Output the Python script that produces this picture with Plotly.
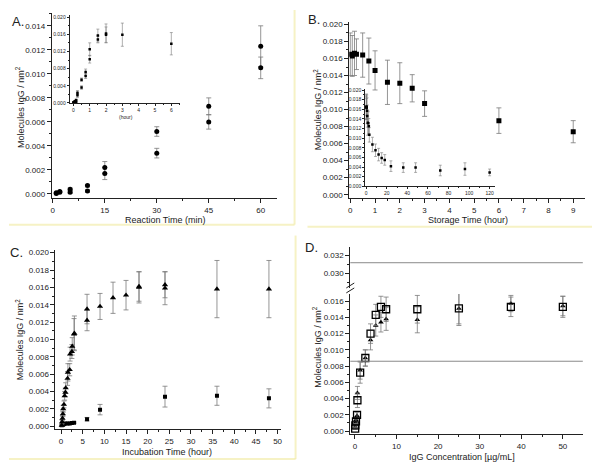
import plotly.graph_objects as go

W, H = 600, 462
FONT = "Arial, Liberation Sans, sans-serif"

# ---------------- Panel A data ----------------
A_time_min = [1, 1, 2, 2, 5, 5, 10, 10, 15, 15, 30, 30, 45, 45, 60, 60]
A_values = [0.0001, 0.00005, 0.0002, 0.00015, 0.0004, 0.00015, 0.0007, 0.00025,
            0.0022, 0.0017, 0.0052, 0.0034, 0.0073, 0.0060, 0.0123, 0.0105]
A_errors = [0.00005, 0.00005, 0.00005, 0.00005, 0.0001, 0.0001, 0.0001, 0.0001,
            0.0005, 0.0005, 0.0004, 0.0004, 0.0007, 0.0006, 0.0017, 0.0009]

A_inset_hours = [0.017, 0.017, 0.033, 0.033, 0.083, 0.083, 0.167, 0.167, 0.25, 0.25,
                 0.5, 0.5, 0.75, 0.75, 1, 1, 1.5, 1.5, 2, 2, 3, 6]
A_inset_values = [0.0001, 0.00005, 0.0002, 0.00015, 0.0004, 0.0002, 0.0007, 0.00025,
                  0.0024, 0.0018, 0.0054, 0.0036, 0.0072, 0.0063, 0.0125, 0.0102,
                  0.0157, 0.0148, 0.0162, 0.0159, 0.0159, 0.0138]
A_inset_errors = [0.00005, 0.00005, 0.00005, 0.00005, 0.0001, 0.0001, 0.0001, 0.0001,
                  0.0005, 0.0005, 0.0004, 0.0004, 0.0007, 0.0006, 0.0015, 0.0009,
                  0.0015, 0.0008, 0.0022, 0.0018, 0.0027, 0.0026]

# ---------------- Panel B data ----------------
B_time_h = [0, 0.08, 0.17, 0.25, 0.5, 0.75, 1, 1.5, 2, 2.5, 3, 6, 9]
B_values = [0.0165, 0.0163, 0.0166, 0.0165, 0.0164, 0.0157, 0.0146, 0.0132,
            0.0131, 0.0125, 0.0107, 0.0087, 0.0074]
B_errors = [0.0025, 0.0024, 0.0026, 0.0018, 0.0026, 0.0027, 0.0023, 0.0026,
            0.0024, 0.0016, 0.0015, 0.0015, 0.0013]

B_inset_hours = [0, 0.08, 0.17, 0.25, 0.5, 0.75, 1, 1.5, 2, 2.5, 3, 6, 9,
                 12, 15, 18, 24, 36, 48, 72, 96, 120]
B_inset_values = [0.0165, 0.0163, 0.0166, 0.0165, 0.0164, 0.0157, 0.0146, 0.0132,
                  0.0131, 0.0125, 0.0107, 0.0087, 0.0075,
                  0.0066, 0.0059, 0.0055, 0.0042, 0.0039, 0.0039, 0.0033, 0.0036, 0.0029]
B_inset_errors = [0.0025, 0.0024, 0.0026, 0.0018, 0.0026, 0.0027, 0.0023, 0.0026,
                  0.0024, 0.0016, 0.0015, 0.0015, 0.0013,
                  0.0013, 0.0011, 0.0011, 0.0011, 0.0010, 0.0010, 0.0011, 0.0013, 0.0007]

# ---------------- Panel C data ----------------
C_tri_time = [0.17, 0.25, 0.33, 0.42, 0.5, 0.67, 0.83, 1.0, 1.08, 1.5, 1.58,
              2.0, 2.08, 2.5, 2.58, 3.0, 3.08, 6, 6, 9, 12, 15, 18, 18, 24, 24, 36, 48]
C_tri_values = [0.0001, 0.0005, 0.0009, 0.0014, 0.0020, 0.0025, 0.0035, 0.0039,
                0.0044, 0.0055, 0.0062, 0.0065, 0.0083, 0.0086, 0.0092, 0.0106,
                0.0107, 0.0122, 0.0135, 0.0138, 0.0148, 0.0151, 0.0160, 0.0161,
                0.0159, 0.0163, 0.0158, 0.0158]
C_tri_errors = [0.0001, 0.0002, 0.0003, 0.0003, 0.0004, 0.0004, 0.0005, 0.0005,
                0.0006, 0.0008, 0.0010, 0.0007, 0.0008, 0.0008, 0.0010, 0.0018,
                0.0020, 0.0012, 0.0017, 0.0015, 0.0018, 0.0017, 0.0018, 0.0017,
                0.0019, 0.0015, 0.0033, 0.0033]

C_sq_time = [0.17, 0.33, 0.5, 0.67, 1.0, 1.5, 2.0, 2.5, 3.0, 6, 9, 24, 36, 48]
C_sq_values = [0.0001, 0.0002, 0.0002, 0.00025, 0.0003, 0.0003, 0.0003, 0.00035,
               0.0004, 0.0008, 0.0019, 0.0034, 0.0035, 0.0032]
C_sq_errors = [0.00005, 0.00005, 0.00005, 0.00005, 0.00005, 0.00005, 0.00005,
               0.00005, 0.00008, 0.0002, 0.0006, 0.0012, 0.0011, 0.0011]

# ---------------- Panel D data ----------------
D_conc = [0.05, 0.1, 0.25, 0.5, 0.6, 1.25, 2.5, 3.75, 5, 6.25, 7.5, 15, 25, 37.5, 50]
D_sq_values = [0.0003, 0.0007, 0.0012, 0.0020, 0.0038, 0.0072, 0.0090, 0.0120,
               0.0143, 0.0153, 0.0150, 0.0150, 0.0151, 0.0153, 0.0153]
D_sq_errors = [0.0001, 0.0002, 0.0003, 0.0004, 0.0009, 0.0013, 0.0010, 0.0012,
               0.0013, 0.0013, 0.0015, 0.0017, 0.0021, 0.0012, 0.0013]
D_tri_values = [0.0005, 0.0010, 0.0014, 0.0019, 0.0047, 0.0075, 0.0090, 0.0112,
                0.0130, 0.0134, 0.0138, 0.0137, 0.0151, 0.0157, 0.0154]
D_tri_errors = [0.0001, 0.0002, 0.0003, 0.0004, 0.0008, 0.0011, 0.0010, 0.0012,
                0.0013, 0.0012, 0.0014, 0.0016, 0.0019, 0.0010, 0.0012]
D_ref_lines_lower = [0.0086]
D_ref_lines_upper = [0.0312]

# ---------------- helpers ----------------
def dx(x0, x1):
    return [x0 / W, x1 / W]

def dy(ybot, ytop):
    return [(H - ybot) / H, (H - ytop) / H]

def px(x):
    return x / W

def py(y):
    return 1 - y / H

ERR_COLOR = "#7a7a7a"

def axis(domain, rng, dtick, minor, anchor, size=8, fmt=None, tl=4, mtl=2, tick0=0):
    d = dict(domain=domain, range=rng, dtick=dtick, tick0=tick0, anchor=anchor,
             showline=True, linecolor="#222", linewidth=1,
             ticks="outside", ticklen=tl, tickwidth=1, tickcolor="#222",
             showgrid=False, zeroline=False,
             tickfont=dict(family=FONT, size=size, color="#222"),
             minor=dict(dtick=minor, tick0=tick0, ticks="outside", ticklen=mtl,
                        tickwidth=1, tickcolor="#222", showgrid=False))
    if fmt:
        d["tickformat"] = fmt
    return d

def errs(arr, width=2, thick=0.8):
    return dict(type="data", array=arr, visible=True, color=ERR_COLOR,
                thickness=thick, width=width)

fig = go.Figure()

# Panel A
fig.add_trace(go.Scatter(x=A_time_min, y=A_values, mode="markers", xaxis="x", yaxis="y",
                         marker=dict(symbol="circle", size=5, color="black"),
                         error_y=errs(A_errors, 2.5)))
fig.add_trace(go.Scatter(x=A_inset_hours, y=A_inset_values, mode="markers", xaxis="x2", yaxis="y2",
                         marker=dict(symbol="square", size=2.5, color="black"),
                         error_y=errs(A_inset_errors, 1.5, 0.6)))
# Panel B
fig.add_trace(go.Scatter(x=B_time_h, y=B_values, mode="markers", xaxis="x3", yaxis="y3",
                         marker=dict(symbol="square", size=5, color="black"),
                         error_y=errs(B_errors, 2.5)))
fig.add_trace(go.Scatter(x=B_inset_hours, y=B_inset_values, mode="markers", xaxis="x4", yaxis="y4",
                         marker=dict(symbol="square", size=2.5, color="black"),
                         error_y=errs(B_inset_errors, 1.5, 0.6)))
# Panel C
fig.add_trace(go.Scatter(x=C_sq_time, y=C_sq_values, mode="markers", xaxis="x5", yaxis="y5",
                         marker=dict(symbol="square", size=4, color="black"),
                         error_y=errs(C_sq_errors, 2.5)))
fig.add_trace(go.Scatter(x=C_tri_time, y=C_tri_values, mode="markers", xaxis="x5", yaxis="y5",
                         marker=dict(symbol="triangle-up", size=5.5, color="black"),
                         error_y=errs(C_tri_errors, 2.5)))
# Panel D (lower segment)
fig.add_trace(go.Scatter(x=D_conc, y=D_tri_values, mode="markers", xaxis="x6", yaxis="y6",
                         marker=dict(symbol="triangle-up", size=5, color="black"),
                         error_y=errs(D_tri_errors, 2.5)))
fig.add_trace(go.Scatter(x=D_conc, y=D_sq_values, mode="markers", xaxis="x6", yaxis="y6",
                         marker=dict(symbol="square-open", size=7, color="black",
                                     line=dict(width=1.3, color="black")),
                         error_y=errs(D_sq_errors, 2.5)))

layout = dict(
    width=W, height=H, margin=dict(l=0, r=0, t=0, b=0),
    paper_bgcolor="white", plot_bgcolor="rgba(0,0,0,0)", showlegend=False,
    font=dict(family=FONT, color="black"),
    # A main
    xaxis=axis(dx(43, 269), [-0.3, 64.6], 15, 7.5, "y"),
    yaxis=axis(dy(190, 3), [-0.00033, 0.01507], 0.002, 0.001, "x", fmt=".3f"),
    # A inset
    xaxis2=axis(dx(61, 172), [-0.226, 6.54], 1, 0.5, "y2", size=5, tl=2, mtl=1),
    yaxis2=axis(dy(94, 5), [0, 0.0205], 0.004, 0.002, "x2", size=5, fmt=".3f", tl=2, mtl=1),
    # B main
    xaxis3=axis(dx(342, 579), [-0.04, 9.48], 1, 0.5, "y3"),
    yaxis3=axis(dy(190, 12), [-0.00038, 0.0203], 0.002, 0.001, "x3", fmt=".3f"),
    # B inset
    xaxis4=axis(dx(358, 488), [-1, 124.8], 20, 10, "y4", size=5, tl=2, mtl=1),
    yaxis4=axis(dy(178.3, 80), [0, 0.0202], 0.002, 0.001, "x4", size=5, fmt=".3f", tl=2, mtl=1),
    # C
    xaxis5=axis(dx(46.7, 273), [-1.29, 50.7], 5, 2.5, "y5"),
    yaxis5=axis(dy(424, 242.7), [-0.00038, 0.0203], 0.002, 0.001, "x5", fmt=".3f"),
    # D
    xaxis6=axis(dx(343, 576.7), [-1.12, 54.8], 10, 5, "y6"),
    yaxis6=axis(dy(429, 287), [-0.0004, 0.01689], 0.002, 0.001, "x6", fmt=".3f"),
    yaxis7=axis(dy(281, 240), [0.02837, 0.03292], 0.002, 0.001, "x6", fmt=".3f"),
)
fig.update_layout(**layout)

# reference lines in D
shapes = []
for v in D_ref_lines_lower:
    shapes.append(dict(type="line", xref="x6 domain", yref="y6", x0=0, x1=1, y0=v, y1=v,
                       line=dict(color="#8a8a8a", width=1)))
for v in D_ref_lines_upper:
    shapes.append(dict(type="line", xref="x6 domain", yref="y7", x0=0, x1=1, y0=v, y1=v,
                       line=dict(color="#8a8a8a", width=1)))
# axis break marks in D
for off in (0, 5):
    shapes.append(dict(type="line", xref="paper", yref="paper",
                       x0=px(339), x1=px(347), y0=py(281 + off), y1=py(276 + off),
                       line=dict(color="#222", width=1)))

# faint yellow panel borders
YEL = "rgba(238,232,150,0.55)"
for (x0, y0, x1, y1) in [(287, 0, 287, 217), (0, 217, 287, 217),
                         (589, 0, 589, 221), (300, 219, 589, 219),
                         (288, 228, 288, 454), (0, 454, 288, 454),
                         (597, 227, 597, 459), (295, 459, 597, 459)]:
    shapes.append(dict(type="line", xref="paper", yref="paper",
                       x0=px(x0), x1=px(x1), y0=py(y0), y1=py(y1),
                       line=dict(color=YEL, width=2)))
fig.update_layout(shapes=shapes)

ann = []
def text(t, x, y, size=9, angle=0):
    ann.append(dict(text=t, x=px(x), y=py(y), xref="paper", yref="paper",
                    showarrow=False, xanchor="center", yanchor="middle",
                    textangle=angle, font=dict(family=FONT, size=size, color="#222")))

YT = "Molecules IgG / nm<sup>2</sup>"
# panel letters
text("A.", 9, 12, 13)
text("B.", 307, 10, 13)
text("C.", 8, 245, 13)
text("D.", 304, 240, 13)
# axis titles
text("Reaction Time (min)", 157, 212)
text(YT, 11, 98, 9, -90)
text("(hour)", 118, 108, 5)
text("Storage Time (hour)", 461, 212)
text(YT, 310, 100, 9, -90)
text("Incubation Time (hour)", 159, 447)
text(YT, 11, 333, 9, -90)
text("IgG Concentration [µg/mL]", 455, 452)
text(YT, 310, 340, 9, -90)
fig.update_layout(annotations=ann)

fig.write_html("out.html")
